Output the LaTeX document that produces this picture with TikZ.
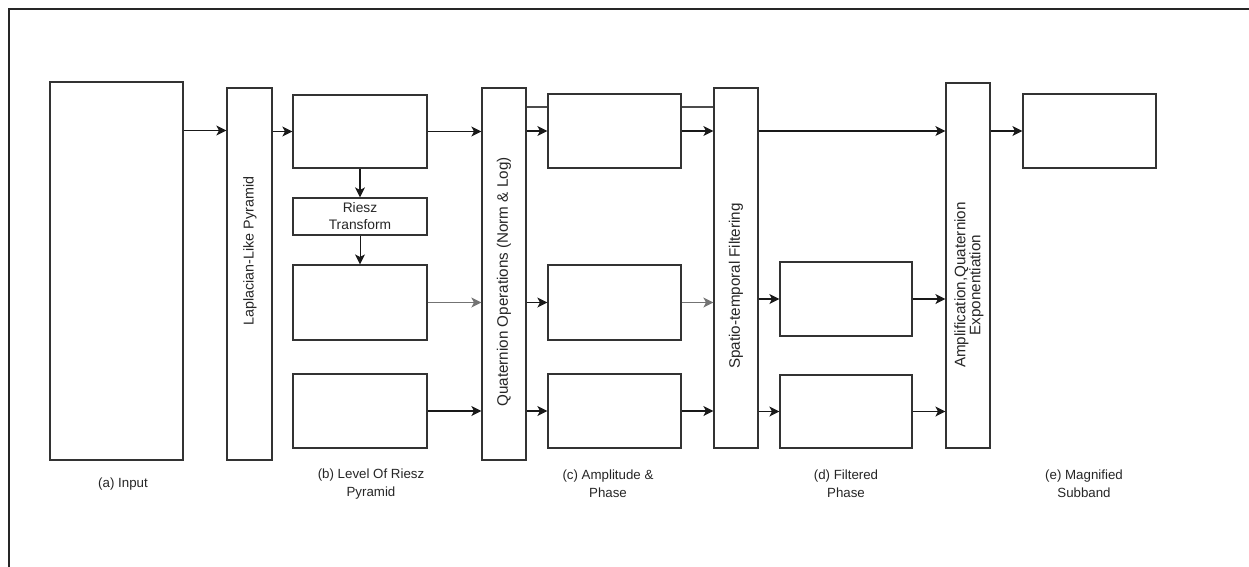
\documentclass[tikz,border=0pt]{standalone}
\usepackage{fontspec}
\setmainfont{Liberation Sans}
\usetikzlibrary{arrows.meta}
\begin{document}
\begin{tikzpicture}[x=1pt,y=-1pt,
  box/.style={draw=black!80, line width=1.2pt, inner sep=0pt, fill=white},
  arr/.style={draw=black!90, line width=1.1pt, -{Stealth[length=10pt,width=10pt,inset=2.5pt]}},
  garr/.style={arr, draw=black!55},
  ln/.style={draw=black!70, line width=1.1pt},
  lbl/.style={font=\fontsize{13.3}{18}\selectfont, align=center, text=black!85, inner sep=0pt},
  rlbl/.style={font=\fontsize{15.2}{15}\selectfont, align=center, text=black!85, inner sep=0pt, rotate=90}
]
\useasboundingbox (0,0) rectangle (1249,566);
\fill[white] (0,0) rectangle (1249,566);
\draw[black!85, line width=1.2pt] (9,9) rectangle (1300,620);

% boxes
\node[box, minimum width=133pt, minimum height=378pt] (in) at (116.5,271) {};
\node[box, minimum width=45pt, minimum height=372pt] (lap) at (249.5,274) {};
\node[box, minimum width=134pt, minimum height=73pt] (r1) at (360,131.5) {};
\node[box, minimum width=134pt, minimum height=37pt, font=\fontsize{13.8}{17}\selectfont, align=center, text=black!85] (rt) at (360,216.5) {Riesz\\Transform};
\node[box, minimum width=134pt, minimum height=75pt] (r2) at (360,302.5) {};
\node[box, minimum width=134pt, minimum height=74pt] (r3) at (360,411) {};
\node[box, minimum width=44pt, minimum height=372pt] (q) at (504,274) {};
\node[box, minimum width=133pt, minimum height=74pt] (a1) at (614.5,131) {};
\node[box, minimum width=133pt, minimum height=75pt] (a2) at (614.5,302.5) {};
\node[box, minimum width=133pt, minimum height=74pt] (a3) at (614.5,411) {};
\node[box, minimum width=44pt, minimum height=360pt] (s) at (736,268) {};
\node[box, minimum width=132pt, minimum height=74pt] (f2) at (846,299) {};
\node[box, minimum width=132pt, minimum height=73pt] (f3) at (846,411.5) {};
\node[box, minimum width=44pt, minimum height=365pt] (amp) at (968,265.5) {};
\node[box, minimum width=133pt, minimum height=74pt] (m) at (1089.5,131) {};

% rotated labels
\node[rlbl, font=\fontsize{14.3}{15}\selectfont] (laplbl) at (250,251) {Laplacian-Like Pyramid};
\node[rlbl] (qlbl) at (504,282) {Quaternion Operations (Norm \& Log)};
\node[rlbl] (slbl) at (736,286) {Spatio-temporal Filtering};
\node[rlbl] (amplbl) at (969,285) {Amplification,Quaternion\\Exponentiation};

% captions
\node[lbl] (la) at (123,484) {(a) Input};
\node[lbl] (lb) at (371,484) {(b) Level Of Riesz\\Pyramid};
\node[lbl] (lc) at (608,484) {(c) Amplitude \&\\Phase};
\node[lbl] (ld) at (846,484) {(d) Filtered\\Phase};
\node[lbl] (le) at (1084,484) {(e) Magnified\\Subband};

% connectors
\coordinate (t) at (0,107);
\coordinate (ytop) at (0,130.5);
\draw[arr] (in.east |- ytop) -- (lap.west |- ytop);
\draw[arr] (lap.east |- r1.east) -- (r1.west);
\draw[arr] (r1.east) -- (q.west |- r1.east);
\draw[arr] (r1.south) -- (rt.north);
\draw[arr, line width=0.9pt] (rt.south) -- (r2.north);
\draw[garr] (r2.east) -- (q.west |- r2.east);
\draw[arr] (r3.east) -- (q.west |- r3.east);

\draw[ln] (q.east |- t) -- (a1.west |- t);
\draw[arr] (q.east |- a1.west) -- (a1.west);
\draw[arr] (q.east |- a2.west) -- (a2.west);
\draw[arr] (q.east |- a3.west) -- (a3.west);

\draw[ln] (a1.east |- t) -- (s.west |- t);
\draw[arr] (a1.east) -- (s.west |- a1.east);
\draw[garr] (a2.east) -- (s.west |- a2.east);
\draw[arr] (a3.east) -- (s.west |- a3.east);

\draw[arr] (s.east |- a1.east) -- (amp.west |- a1.east);
\draw[arr] (s.east |- f2.west) -- (f2.west);
\draw[arr] (s.east |- f3.west) -- (f3.west);

\draw[arr] (f2.east) -- (amp.west |- f2.east);
\draw[arr] (f3.east) -- (amp.west |- f3.east);
\draw[arr] (amp.east |- m.west) -- (m.west);
\end{tikzpicture}
\end{document}
